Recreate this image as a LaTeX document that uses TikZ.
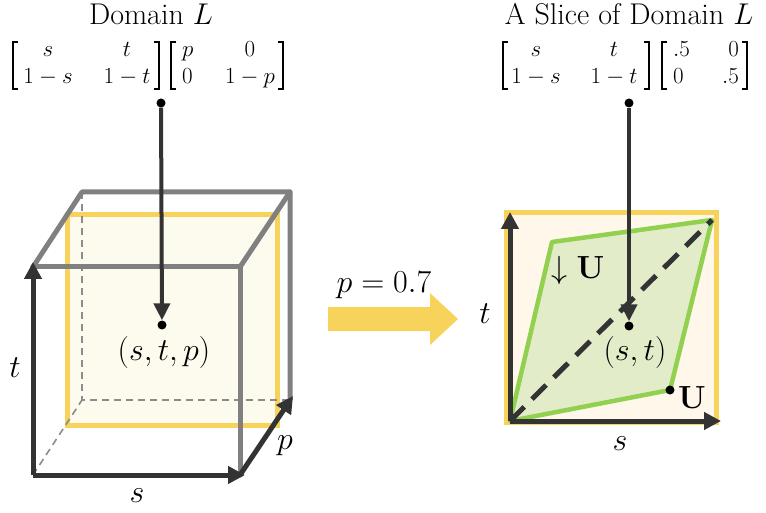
\RequirePackage{fix-cm}
\documentclass[tikz,border=0pt]{standalone}
\usepackage{amsmath}
\usetikzlibrary{arrows.meta}
\definecolor{cubegray}{HTML}{808080}
\definecolor{darkc}{HTML}{333333}
\definecolor{yline}{HTML}{F8D35C}
\definecolor{yfillL}{HTML}{FDFBEE}
\definecolor{yfillR}{HTML}{FEF7EA}
\definecolor{gline}{HTML}{92D050}
\definecolor{gfill}{HTML}{E3ECC8}
\definecolor{hiddenc}{HTML}{8C8C8C}
\begin{document}
\begin{tikzpicture}[x=1pt,y=-1pt,
  edge/.style={draw=cubegray,line width=5pt,line join=round,line cap=round},
  hidden/.style={draw=hiddenc,line width=1.6pt,dash pattern=on 7pt off 5pt},
  axis/.style={draw=darkc,line width=5pt,-{Triangle[length=17pt,width=17pt]}},
  varrow/.style={draw=darkc,line width=4pt,-{Triangle[length=17pt,width=16pt]}},
  slice/.style={draw=yline,line width=5pt},
  dotn/.style={circle,fill=black,inner sep=0pt,minimum size=9pt},
  lab/.style={inner sep=0pt,font=\fontsize{32}{36}\selectfont},
  ent/.style={inner sep=0pt,anchor=base,font=\fontsize{23}{27}\selectfont},
  ttl/.style={inner sep=0pt,anchor=base,font=\fontsize{30}{34}\selectfont},
  brk/.style={draw=black,line width=1.2pt},
  diag/.style={draw=darkc,line width=5pt,dash pattern=on 20pt off 11pt}
]
\useasboundingbox (0,0) rectangle (766,513);

% ---------------- titles ----------------
\node[ttl] (t1) at (151,25) {Domain $L$};
\node[ttl] (t2) at (629,25) {A Slice of Domain $L$};

% ---------------- left matrices ----------------
\draw[brk] (18,42) -- (13,42) -- (13,89) -- (18,89);
\draw[brk] (154,42) -- (159,42) -- (159,89) -- (154,89);
\node[ent] (a11) at (48,57) {$s$};
\node[ent] (a12) at (127,57) {$t$};
\node[ent] (a21) at (48,84) {$1-s$};
\node[ent] (a22) at (127,84) {$1-t$};
\draw[brk] (176,42) -- (171,42) -- (171,89) -- (176,89);
\draw[brk] (278,42) -- (283,42) -- (283,89) -- (278,89);
\node[ent,anchor=base west] (b11) at (182,57) {$p$};
\node[ent] (b12) at (250,57) {$0$};
\node[ent,anchor=base west] (b21) at (182,84) {$0$};
\node[ent] (b22) at (250,84) {$1-p$};

% ---------------- right matrices ----------------
\draw[brk] (508,42) -- (503,42) -- (503,89) -- (508,89);
\draw[brk] (644,42) -- (649,42) -- (649,89) -- (644,89);
\node[ent] (c11) at (536,57) {$s$};
\node[ent] (c12) at (614,57) {$t$};
\node[ent] (c21) at (536,84) {$1-s$};
\node[ent] (c22) at (614,84) {$1-t$};
\draw[brk] (667,42) -- (662,42) -- (662,89) -- (667,89);
\draw[brk] (742,42) -- (747,42) -- (747,89) -- (742,89);
\node[ent,anchor=base west] (d11) at (673,57) {$.5$};
\node[ent,anchor=base east] (d12) at (739,57) {$0$};
\node[ent,anchor=base west] (d21) at (673,84) {$0$};
\node[ent,anchor=base east] (d22) at (739,84) {$.5$};

% ---------------- cube ----------------
\coordinate (F00) at (33,475);
\coordinate (F10) at (240,475);
\coordinate (F01) at (33,267);
\coordinate (F11) at (240,267);
\coordinate (B00) at (82,400);
\coordinate (B10) at (290,400);
\coordinate (B01) at (82,192);
\coordinate (B11) at (290,192);
\draw[slice,fill=yfillL] (67,215) rectangle (277,425);
\draw[hidden] (B01) -- (B00) -- (B10);
\draw[hidden] (F00) -- (B00);
\draw[edge] (F01) -- (B01) -- (B11) -- (B10);
\draw[edge] (F01) -- (F11) -- (F10);
\draw[edge] (F11) -- (B11);
\coordinate (tTip) at (33,262);
\coordinate (sTip) at (245,475);
\coordinate (pTip) at (293,396);
\draw[axis] (F00) -- (tTip);
\draw[axis] (F00) -- (sTip);
\draw[axis] (F10) -- (pTip);
\node[lab] (lt) at (15,368) {$t$};
\node[lab] (ls) at (137,496) {$s$};
\node[lab] (lp) at (285,446) {$p$};

\node[dotn] (topL) at (161,103) {};
\node[dotn] (ptL) at (162,325) {};
\draw[varrow] (topL) -- (ptL);
\node[lab] (stp) at (164,352) {$(s,t,p)$};

% ---------------- yellow arrow ----------------
\fill[yline] (328,307) -- (430,307) -- (430,293) -- (458,319) -- (430,345) -- (430,331) -- (328,331) -- cycle;
\node[lab,anchor=base] (pval) at (384,293) {$p=0.7$};

% ---------------- slice ----------------
\draw[slice,fill=yfillR] (506,213) rectangle (716,422);
\coordinate (O) at (510,421);
\coordinate (G1) at (552,242);
\coordinate (G2) at (712,220);
\coordinate (G3) at (670,390);
\draw[draw=gline,line width=4.5pt,line join=round,fill=gfill] (O) -- (G1) -- (G2) -- (G3) -- cycle;
\draw[diag] (O) -- (G2);
\coordinate (rtTip) at (510,212);
\coordinate (rsTip) at (721,421);
\draw[axis] (O) -- (rtTip);
\draw[axis] (O) -- (rsTip);
\node[lab] (rt) at (485,314) {$t$};
\node[lab] (rs) at (620,444) {$s$};
\node[dotn] (Udot) at (G3) {};
\node[lab] (Ulab) at (692,398) {$\mathbf{U}$};
\node[lab] (dU) at (578,271) {$\downarrow\mathbf{U}$};

\node[dotn] (topR) at (629,103) {};
\node[dotn] (ptR) at (629,326) {};
\draw[varrow] (topR) -- (ptR);
\node[lab] (st) at (635,353) {$(s,t)$};
\end{tikzpicture}
\end{document}
